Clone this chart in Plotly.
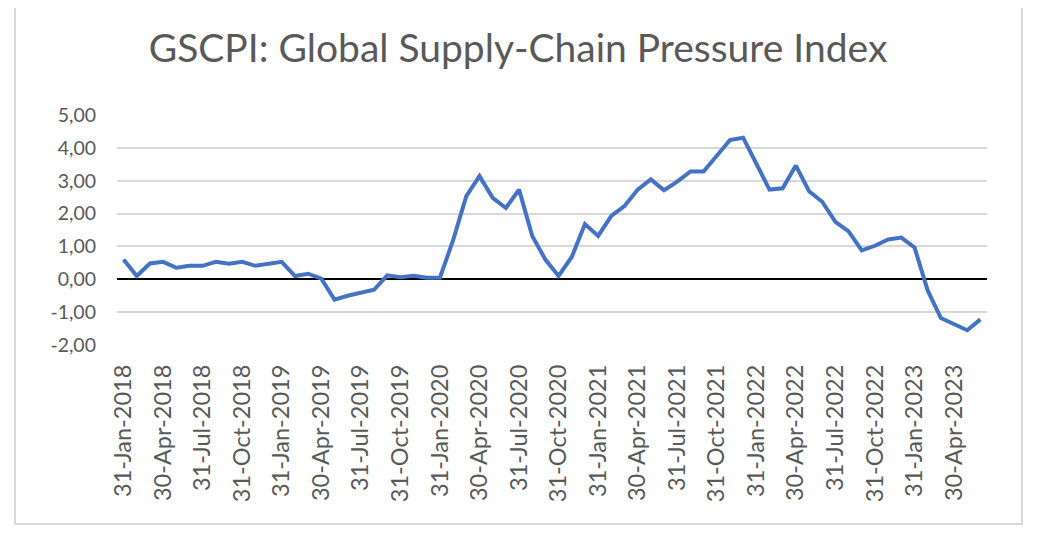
import pandas as pd
import plotly.graph_objects as go

# Monthly month-end categories, Jan 2018 .. Jun 2023
months = pd.date_range("2018-01-31", "2023-06-30", freq="ME")
categories = [f"{d.day}-{d.strftime('%b')}-{d.year}" for d in months]

gscpi = [0.60, 0.10, 0.48, 0.53, 0.35, 0.41, 0.41, 0.53, 0.47, 0.53, 0.41, 0.47,
         0.53, 0.10, 0.17, 0.02, -0.62, -0.50, -0.42, -0.32, 0.12, 0.06, 0.11, 0.05,
         0.05, 1.19, 2.53, 3.14, 2.48, 2.17, 2.73, 1.32, 0.60, 0.10, 0.68, 1.68,
         1.32, 1.93, 2.23, 2.73, 3.04, 2.71, 2.97, 3.28, 3.28, 3.78, 4.24, 4.31,
         3.53, 2.73, 2.77, 3.46, 2.68, 2.36, 1.75, 1.46, 0.88, 1.02, 1.21, 1.27,
         0.97, -0.34, -1.18, -1.35, -1.55, -1.22]

tick_labels = categories[::3]
y_ticks = [-2, -1, 0, 1, 2, 3, 4, 5]
y_tick_text = ["-2,00", "-1,00", "0,00", "1,00", "2,00", "3,00", "4,00", "5,00"]

OFF = 8  # page body margin
W, H = 1050 - OFF, 550 - OFF
# screen-pixel targets
plot_left, plot_right, plot_top, plot_bottom = 117, 987, 115, 345
L = plot_left - OFF
T = plot_top - OFF
R = W - (plot_right - OFF)
B = H - (plot_bottom - OFF)
pw, ph = W - L - R, H - T - B

def px(x):
    return (x - OFF - L) / pw

def py(y):
    return (H - B - (y - OFF)) / ph

FONT = "Lato"
GRAY = "#595959"

fig = go.Figure()
fig.add_trace(go.Scatter(
    x=categories, y=gscpi, mode="lines",
    line=dict(color="#4472C4", width=4),
    hoverinfo="x+y", showlegend=False,
))

fig.update_layout(
    width=W, height=H,
    margin=dict(l=L, r=R, t=T, b=B),
    paper_bgcolor="white", plot_bgcolor="white",
    title=dict(text="GSCPI: Global Supply-Chain Pressure Index",
               xref="container", x=(518 - OFF) / W, xanchor="center",
               yref="container", y=1 - (48 - OFF) / H, yanchor="middle",
               font=dict(family=FONT, size=39, color=GRAY)),
    font=dict(family=FONT, color=GRAY),
    xaxis=dict(type="category", tickmode="array", tickvals=tick_labels,
               ticktext=tick_labels, tickangle=-90, showgrid=False,
               showline=False, ticks="", range=[-0.5, len(categories) - 0.5],
               ticklabelstandoff=14,
               tickfont=dict(family=FONT, size=23.5, color=GRAY)),
    yaxis=dict(range=[-2, 5], tickmode="array", tickvals=y_ticks,
               ticktext=y_tick_text, showgrid=True, gridcolor="#d9d9d9",
               gridwidth=1.5, zeroline=True, zerolinecolor="black",
               zerolinewidth=2, showline=False, ticks="",
               ticklabelstandoff=20,
               tickfont=dict(family=FONT, size=19.5, color=GRAY)),
    shapes=[dict(type="rect", xref="paper", yref="paper",
                 x0=px(15), x1=px(1022), y0=py(524), y1=py(1.5),
                 line=dict(color="#d9d9d9", width=2), fillcolor="rgba(0,0,0,0)",
                 layer="below")],
)

fig.write_html("out.html")
